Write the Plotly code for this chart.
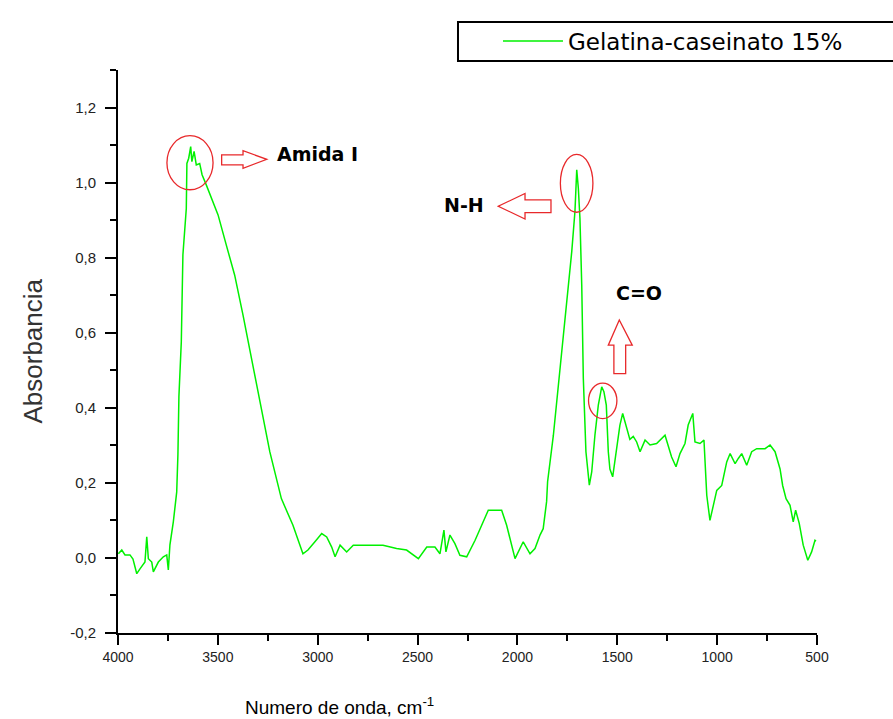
import plotly.graph_objects as go

# ---- data (wavenumber cm^-1, absorbance) ----
wavenumber = [3998, 3981, 3965, 3940, 3925, 3906, 3890, 3865, 3856, 3848, 3831, 3823, 3798, 3773,
              3756, 3748, 3740, 3723, 3706, 3700, 3695, 3683, 3675, 3658, 3655, 3646, 3636, 3630,
              3619, 3608, 3591, 3579, 3558, 3541, 3499, 3458, 3416, 3374, 3332, 3290, 3240, 3182,
              3124, 3074, 3049, 3014, 2980, 2955, 2930, 2913, 2888, 2855, 2822, 2755, 2673, 2605,
              2555, 2496, 2454, 2413, 2388, 2368, 2358, 2338, 2313, 2288, 2254, 2212, 2179, 2146,
              2079, 2054, 2012, 1971, 1937, 1912, 1887, 1871, 1854, 1849, 1820, 1787, 1753, 1728,
              1712, 1703, 1695, 1687, 1678, 1670, 1657, 1640, 1628, 1612, 1595, 1578, 1567, 1555,
              1545, 1537, 1523, 1503, 1487, 1473, 1453, 1437, 1420, 1403, 1386, 1361, 1336, 1303,
              1261, 1245, 1228, 1206, 1186, 1161, 1145, 1122, 1111, 1086, 1066, 1052, 1036, 1019,
              1002, 977, 952, 935, 910, 894, 877, 852, 827, 802, 760, 735, 710, 685, 672, 655, 635,
              619, 607, 589, 569, 546, 527, 510, 505]
absorbance = [0.011, 0.021, 0.008, 0.008, -0.003, -0.042, -0.029, -0.011, 0.056, -0.002, -0.011,
              -0.037, -0.011, 0.003, 0.008, -0.032, 0.035, 0.096, 0.176, 0.275, 0.430, 0.576, 0.808,
              0.931, 1.051, 1.065, 1.096, 1.056, 1.083, 1.047, 1.051, 1.021, 0.994, 0.971, 0.914,
              0.834, 0.754, 0.647, 0.531, 0.425, 0.283, 0.158, 0.087, 0.011, 0.021, 0.043, 0.065,
              0.056, 0.029, 0.003, 0.034, 0.016, 0.034, 0.034, 0.034, 0.025, 0.021, -0.002, 0.029,
              0.029, 0.011, 0.074, 0.016, 0.061, 0.038, 0.007, 0.003, 0.047, 0.087, 0.127, 0.127,
              0.087, -0.002, 0.043, 0.011, 0.025, 0.061, 0.078, 0.150, 0.203, 0.327, 0.505, 0.683,
              0.816, 0.923, 1.034, 0.985, 0.905, 0.727, 0.478, 0.283, 0.194, 0.229, 0.327, 0.407,
              0.456, 0.443, 0.407, 0.283, 0.237, 0.216, 0.291, 0.353, 0.385, 0.349, 0.316, 0.324,
              0.309, 0.283, 0.314, 0.301, 0.305, 0.327, 0.301, 0.269, 0.243, 0.278, 0.305, 0.354,
              0.385, 0.309, 0.305, 0.314, 0.167, 0.100, 0.140, 0.180, 0.193, 0.256, 0.278, 0.251,
              0.265, 0.278, 0.247, 0.283, 0.291, 0.291, 0.301, 0.283, 0.237, 0.193, 0.158, 0.140,
              0.096, 0.127, 0.092, 0.034, -0.006, 0.016, 0.047, 0.045]

series_name = "Gelatina-caseinato 15%"
x_ticks = [4000, 3500, 3000, 2500, 2000, 1500, 1000, 500]
y_ticks = [-0.2, 0.0, 0.2, 0.4, 0.6, 0.8, 1.0, 1.2]
y_tick_labels = ["-0,2", "0,0", "0,2", "0,4", "0,6", "0,8", "1,0", "1,2"]
x_title = "Numero de onda, cm<sup>-1</sup>"
y_title = "Absorbancia"

# annotation labels and where they sit (data units)
labels = ["Amida I", "N-H", "C=O"]
label_x = [3214, 2157, 1391]
label_y = [1.077, 0.941, 0.707]
label_anchor = ["left", "right", "center"]

# red ellipses (x0, x1, y0, y1) around the marked bands
ellipses = [(3755, 3524, 0.981, 1.125), (1785, 1622, 0.921, 1.075), (1644, 1502, 0.371, 0.466)]

RED = "#e8292b"
GREEN = "#00f000"

fig = go.Figure()
fig.add_trace(go.Scatter(x=wavenumber, y=absorbance, mode="lines", name=series_name,
                         line=dict(color=GREEN, width=1.5), showlegend=True))

for (x0, x1, y0, y1) in ellipses:
    fig.add_shape(type="circle", xref="x", yref="y", x0=x0, x1=x1, y0=y0, y1=y1,
                  line=dict(color=RED, width=1.3))

# hollow arrows
arrow_right = [(3481, 1.074), (3374, 1.074), (3374, 1.085), (3255, 1.062), (3374, 1.038),
               (3374, 1.047), (3481, 1.047)]
arrow_left = [(1832, 0.954), (1962, 0.954), (1962, 0.971), (2096, 0.937), (1962, 0.903),
              (1962, 0.920), (1832, 0.920)]
arrow_up = [(1517, 0.491), (1517, 0.567), (1545, 0.567), (1490, 0.634), (1425, 0.567),
            (1458, 0.567), (1458, 0.491)]
for pts in (arrow_right, arrow_left, arrow_up):
    path = "M" + " L".join(f"{px},{py}" for px, py in pts) + " Z"
    fig.add_shape(type="path", xref="x", yref="y", path=path,
                  line=dict(color=RED, width=1.3), fillcolor="rgba(0,0,0,0)")

for t, lx, ly, an in zip(labels, label_x, label_y, label_anchor):
    fig.add_annotation(x=lx, y=ly, xref="x", yref="y", text=f"<b>{t}</b>", showarrow=False,
                       xanchor=an, yanchor="middle",
                       font=dict(family="DejaVu Sans", size=19, color="black"))

# legend frame (runs off the right edge as in the reference)
fig.add_shape(type="rect", xref="paper", yref="paper", x0=0.4864, x1=1.13, y0=1.016, y1=1.0853,
              line=dict(color="black", width=2), fillcolor="white", layer="below")

# axis titles
fig.add_annotation(x=0.317, y=-0.129, xref="paper", yref="paper", text=x_title, showarrow=False,
                   xanchor="center", yanchor="middle",
                   font=dict(family="Liberation Sans", size=19, color="black"))
fig.add_annotation(x=-0.123, y=0.5, xref="paper", yref="paper", text=y_title, showarrow=False,
                   textangle=-90, xanchor="center", yanchor="middle",
                   font=dict(family="Liberation Sans", size=26, color="#333"))

fig.update_layout(
    width=893, height=719,
    margin=dict(l=118, r=76, t=70, b=86),
    paper_bgcolor="white", plot_bgcolor="white",
    showlegend=True,
    legend=dict(x=0.5436, y=1.0515, xanchor="left", yanchor="middle",
                borderwidth=0, bgcolor="rgba(0,0,0,0)",
                font=dict(family="DejaVu Sans", size=23, color="black"),
                itemwidth=60),
    xaxis=dict(range=[4000, 500], tickvals=x_ticks, showgrid=False, zeroline=False,
               showline=True, linecolor="black", linewidth=2,
               ticks="outside", ticklen=10, tickwidth=2, tickcolor="black",
               minor=dict(dtick=250, ticks="outside", ticklen=6, tickwidth=1.5, tickcolor="black"),
               tickfont=dict(family="Liberation Sans", size=14, color="#222")),
    yaxis=dict(range=[-0.2, 1.3], tickvals=y_ticks, ticktext=y_tick_labels, showgrid=False,
               zeroline=False, showline=True, linecolor="black", linewidth=2,
               ticks="outside", ticklen=11, tickwidth=2, tickcolor="black",
               ticklabelstandoff=6,
               minor=dict(dtick=0.1, ticks="outside", ticklen=6, tickwidth=1.5, tickcolor="black"),
               tickfont=dict(family="Liberation Sans", size=15, color="#222")),
)

fig.write_html("out.html")
